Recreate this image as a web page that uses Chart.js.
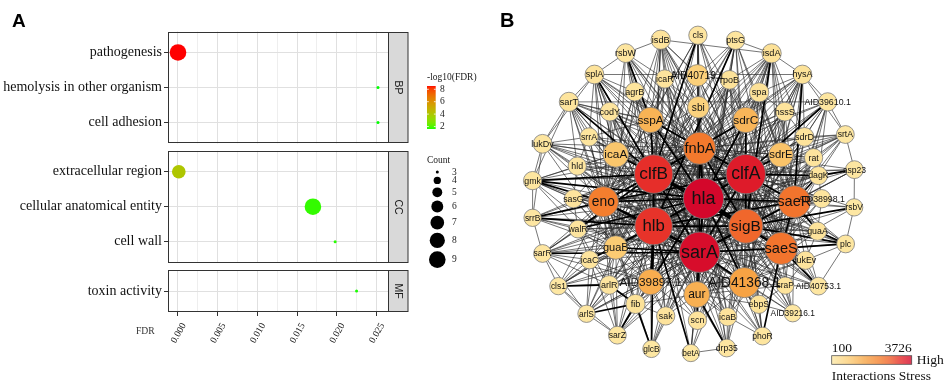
<!DOCTYPE html>
<html>
<head>
<meta charset="utf-8">
<script src="https://cdn.jsdelivr.net/npm/chart.js@4.4.1/dist/chart.umd.min.js"></script>
<style>
  html, body { margin: 0; padding: 0; background: #fff; }
  #wrap { position: relative; width: 948px; height: 388px; overflow: hidden; }
  canvas { position: absolute; top: 0; }
  #goChart { left: 0; }
  #netChart { left: 495px; }
</style>
</head>
<body>
<div id="wrap">
  <canvas id="goChart" width="495" height="388"></canvas>
  <canvas id="netChart" width="453" height="388"></canvas>
</div>
<script>
// ---------- panel A data: GO enrichment ----------
const goTerms = ["pathogenesis", "hemolysis in other organism", "cell adhesion",
    "extracellular region", "cellular anatomical entity", "cell wall", "toxin activity"];
const goCategory = ["BP", "BP", "BP", "CC", "CC", "CC", "MF"];
const goFDR = [2.95e-9, 0.0252, 0.0252, 1.0e-4, 0.0170, 0.0198, 0.0225];
const goCount = [9, 3, 3, 7, 9, 3, 3];
const fdrTicks = [0, 0.005, 0.010, 0.015, 0.020, 0.025];
const fdrTickLabels = ["0.000", "0.005", "0.010", "0.015", "0.020", "0.025"];
const fdrMinorTicks = [0.0025, 0.0075, 0.0125, 0.0175, 0.0225];
const colourBreaks = [2, 4, 6, 8];
const countBreaks = [3, 4, 5, 6, 7, 8, 9];

// ---------- panel B data: PPI network ----------
const nodeNames = ["isdB", "cls", "ptsG", "isdA", "rsbW", "splA", "icaR", "AID40719.1", "rpoB", "hysA",
    "agrB", "spa", "sarT", "codY", "sbi", "hssS", "AID39610.1", "sspA", "sdrC", "lukDv",
    "srrA", "sdrD", "srtA", "icaA", "fnbA", "sdrE", "rat", "hld", "clfB", "clfA",
    "dagK", "asp23", "gmk", "sasG", "eno", "hla", "saeR", "AID38998.1", "rsbV", "srrB",
    "walR", "hlb", "sigB", "guaA", "plc", "guaB", "sarA", "saeS", "sarR", "icaC",
    "lukEv", "cls1", "arlR", "AID39897.1", "AID41368.1", "sraP", "AID40753.1", "aur", "fib", "ebpS",
    "arlS", "sak", "scn", "icaB", "AID39216.1", "sarZ", "phoR", "glcB", "betA", "drp35"];
const nodeX = [-45.5, -4.5, 37, 76.7, -84.2, -118.5, -41, -5, 30.3, 110.7,
    -74.2, 63, -146.7, -101.7, -4, 91.3, 138.5, -56.7, 48.3, -175.7,
    -124.5, 113, 158, -95, -2.7, 87, 123, -137.5, -53.3, 48.3,
    128.3, 168, -186.7, -141.7, -108.7, 1.7, 101.7, 132, 167.7, -186.7,
    -136.7, -53.3, 48.3, 127.3, 158.3, -95, -2.7, 87.3, -175.7, -124,
    114, -158.3, -102.3, -56.7, 46.7, 91.7, 128.3, -5.7, -73.3, 62.7,
    -127.3, -40, -5, 28.3, 100, -93.3, 66.7, -55.7, -12.3, 27.3];
const nodeY = [-179, -184, -178.3, -163.7, -164, -140, -135, -139, -134, -140,
    -120.7, -120, -109.3, -98.3, -103.3, -98.3, -109.3, -89, -89, -62.3,
    -70, -70, -72.7, -50.3, -57.3, -50, -46.7, -37.3, -28.3, -28.3,
    -26.7, -33.3, -21, -0.7, 2.7, -1, 2.7, -0.7, 9, 20.7,
    33.3, 30, 30, 35.7, 50, 54, 59.3, 55, 60.7, 67.7,
    68.3, 97.3, 96, 92.7, 93.3, 96.7, 97.3, 106.7, 117.3, 117.7,
    128.3, 130.7, 135.7, 131.7, 127.7, 152.3, 153.3, 167.7, 172.3, 166.7];
const nodeStress = [260, 200, 220, 330, 210, 280, 260, 800, 300, 300,
    250, 320, 240, 230, 750, 260, 190, 1350, 1300, 210,
    220, 280, 180, 1000, 2380, 1050, 240, 200, 3200, 3450,
    250, 180, 190, 260, 2300, 3726, 2450, 220, 150, 170,
    230, 3150, 2620, 280, 190, 900, 3650, 2450, 200, 240,
    260, 150, 230, 1450, 1650, 280, 170, 1400, 300, 300,
    170, 260, 260, 270, 150, 190, 210, 160, 160, 200];
const nodeDegree = [16, 14, 14, 16, 15, 15, 14, 21, 15, 15,
    15, 16, 16, 15, 21, 15, 14, 29, 29, 15,
    14, 15, 13, 29, 43, 27, 14, 14, 56, 58,
    14, 13, 14, 14, 39, 60, 43, 14, 12, 12,
    13, 54, 47, 14, 13, 25, 60, 43, 13, 14,
    14, 12, 15, 29, 39, 12, 13, 30, 16, 14,
    12, 14, 14, 14, 12, 13, 13, 12, 12, 13];
const stressLegend = [100, 3726];

// thin interactions, written as "node: neighbours"
const thinLinks = [
    "hla: sarA clfA clfB hlb sigB saeS saeR fnbA eno AID41368.1 AID39897.1 aur sspA sdrC sdrE icaA guaB sbi AID40719.1",
    "sarA: clfA clfB hlb sigB saeS saeR fnbA eno AID41368.1 AID39897.1 aur sspA sdrC sdrE icaA guaB sbi",
    "clfA: clfB hlb sigB saeS saeR fnbA eno AID41368.1 AID39897.1 aur sspA sdrC sdrE icaA guaB",
    "clfB: hlb sigB saeS saeR fnbA eno AID41368.1 AID39897.1 aur sspA sdrC sdrE icaA guaB sbi",
    "hlb: sigB saeS saeR fnbA eno AID41368.1 AID39897.1 aur sspA sdrC icaA guaB",
    "sigB: saeS saeR fnbA eno AID41368.1 AID39897.1 aur sspA sdrC sdrE guaB",
    "saeS: saeR fnbA eno AID41368.1 AID39897.1 aur sdrC sdrE",
    "saeR: fnbA eno AID41368.1 aur sspA sdrC sdrE",
    "fnbA: eno AID41368.1 AID39897.1 aur sspA sdrC sdrE icaA sbi",
    "eno: AID41368.1 AID39897.1 aur sspA icaA guaB",
    "AID41368.1: AID39897.1 aur sdrE guaB",
    "sbi: sigB saeS saeR eno clfA clfB hlb aur icaA",
    "isdB: hla sarA clfA clfB hlb fnbA sbi sspA icaR AID40719.1 isdA rsbW sigB saeS eno guaB AID39897.1 aur sdrC",
    "cls: hla sarA clfB hlb sigB fnbA AID40719.1 sbi clfA saeS eno guaB aur sdrC sspA",
    "ptsG: hla sarA clfB eno sigB rpoB AID40719.1 isdA clfA hlb saeS saeR aur guaB sdrE",
    "isdA: hla sarA clfA sigB saeS saeR sdrC sdrE spa hssS hysA rpoB sdrD fnbA clfB hlb eno guaB AID39897.1 aur AID41368.1",
    "rsbW: hla sarA clfB hlb sigB agrB icaR splA clfA fnbA eno guaB aur saeS",
    "splA: hla sarA clfB hlb eno icaA sspA agrB codY sarT lukDv hysA srrA clfA fnbA sigB guaB AID39897.1 aur",
    "icaR: hla sarA clfB hlb fnbA sspA sbi clfA sigB eno guaB aur",
    "AID40719.1: clfA clfB hlb fnbA sigB saeS rpoB sbi eno aur",
    "rpoB: hla sarA clfA clfB hlb sigB saeS saeR sdrC fnbA eno guaB AID39897.1 aur AID41368.1",
    "hysA: hla sarA clfA sigB saeS saeR sdrC sdrE spa hssS sdrD AID39610.1 srtA clfB hlb fnbA AID41368.1 aur",
    "agrB: hla sarA clfB hlb eno sspA icaA clfA fnbA sigB guaB",
    "spa: hla sarA clfA clfB sigB saeS saeR sdrC sdrE fnbA hssS hlb eno AID41368.1 aur",
    "sarT: hla sarA hlb eno icaA srrA codY hld lukDv AID39610.1 gmk clfA fnbA sigB guaB AID39897.1 sspA",
    "codY: hla sarA clfB hlb eno sigB sspA icaA clfA fnbA guaB aur",
    "hssS: hla sarA clfA sigB saeS saeR sdrE sdrD clfB hlb fnbA AID41368.1",
    "AID39610.1: hla sarA clfA sigB saeS saeR sdrD srtA dagK rat clfB hlb fnbA",
    "srrA: hla sarA clfB hlb eno icaA lukDv hld clfA fnbA sigB guaB sspA",
    "lukDv: hla sarA clfB hlb eno icaA srrA hld gmk srrB sarT clfA fnbA sigB guaB",
    "sdrD: hla sarA clfA sigB saeS saeR sdrE srtA rat clfB hlb fnbA AID41368.1 aur",
    "srtA: hla sarA clfA sigB saeR sdrE rat dagK asp23 clfB hlb fnbA",
    "rat: hla sarA clfA sigB saeS saeR sdrE dagK clfB hlb fnbA AID41368.1",
    "hld: hla sarA clfB hlb eno icaA gmk sasG clfA fnbA sigB guaB",
    "dagK: hla sarA sigB saeS AID38998.1 clfB hlb fnbA eno AID41368.1",
    "asp23: hla sarA sigB saeR rsbV clfA clfB hlb fnbA",
    "gmk: sarA hlb sasG srrB walR clfA fnbA sigB guaB icaA",
    "sasG: hla sarA clfB hlb eno walR icaA clfA fnbA sigB guaB AID39897.1",
    "AID38998.1: hla sarA clfA sigB saeS saeR guaA clfB hlb fnbA AID41368.1",
    "rsbV: hla saeR saeS plc clfA sarA",
    "srrB: hla sarA hlb walR sarR guaB clfB clfA fnbA sigB",
    "walR: sarA clfB hlb eno guaB icaC hla clfA fnbA sigB AID39897.1 arlR",
    "guaA: hla sarA clfA sigB saeS saeR lukEv clfB hlb fnbA AID41368.1 sdrE",
    "plc: hla sarA saeR guaA lukEv AID40753.1 clfA clfB hlb fnbA",
    "sarR: hla sarA hlb eno guaB icaC arlR walR arlS cls1 clfA clfB fnbA sigB AID39897.1",
    "icaC: hla sarA eno guaB arlR arlS cls1 sarZ clfA clfB fnbA sigB AID39897.1",
    "lukEv: hla sarA clfA sigB saeS saeR sraP AID40753.1 clfB hlb fnbA AID41368.1 aur",
    "cls1: hla sarA hlb eno arlS sarZ clfA clfB sigB guaB AID39897.1",
    "arlR: hla sarA hlb eno guaB AID39897.1 fib arlS sarZ clfA clfB fnbA sigB",
    "sraP: hla sarA clfA sigB saeS saeR AID41368.1 AID39216.1 ebpS clfB hlb fnbA aur",
    "AID40753.1: hla sarA sigB saeR sraP clfA clfB hlb fnbA",
    "fib: hla sarA clfA clfB hlb AID39897.1 sak eno sigB guaB aur fnbA",
    "ebpS: hla sarA clfA clfB sigB saeS AID41368.1 phoR AID39216.1 hlb fnbA aur eno",
    "arlS: hla sarA hlb eno sarZ clfA clfB sigB guaB AID39897.1",
    "sak: hla sarA hlb AID39897.1 aur glcB clfA clfB sigB fnbA eno",
    "scn: hla sarA hlb sigB AID41368.1 clfA clfB fnbA eno AID39897.1",
    "icaB: hla sarA clfA sigB saeS aur AID41368.1 phoR clfB hlb fnbA eno",
    "AID39216.1: hla sarA sigB saeS saeR clfA clfB hlb fnbA",
    "sarZ: hla sarA hlb eno AID39897.1 clfA clfB sigB guaB",
    "phoR: hla sarA sigB AID41368.1 icaB clfA clfB hlb fnbA",
    "glcB: hla sarA sak clfB fnbA eno AID39897.1",
    "betA: hla sarA aur drp35 clfA clfB sigB",
    "drp35: hla sarA sigB AID41368.1 icaB clfA clfB hlb fnbA"
];

// heavier interactions
const thickLinks = [
    "hla: sarA clfA clfB hlb sigB fnbA saeR eno gmk walR AID41368.1 AID39897.1 aur sspA sdrC",
    "sarA: clfA clfB hlb sigB saeS guaB aur AID41368.1 eno saeR fnbA sarR",
    "clfA: fnbA sigB saeR sdrE sdrC sspA dagK AID39610.1 hlb eno",
    "clfB: fnbA hlb eno sspA icaA sdrC sarT gmk cls sigB saeS splA walR",
    "hlb: eno AID39897.1 glcB betA icaC srrB ptsG sigB saeR",
    "fnbA: sigB eno",
    "sigB: saeS rsbV plc isdA",
    "saeR: saeS dagK guaA hysA",
    "saeS: phoR AID40753.1 plc",
    "eno: srrB gmk",
    "sspA: rsbW",
    "aur: drp35 scn",
    "arlR: cls1 fib",
    "fib: glcB sarZ arlS",
    "asp23: dagK",
    "plc: guaA"
];

// ---------- helpers ----------
function hexToRgb(h) {
    const n = parseInt(h.slice(1), 16);
    return [(n >> 16) & 255, (n >> 8) & 255, n & 255];
}
function toLin(c) { c /= 255; return c <= 0.04045 ? c / 12.92 : Math.pow((c + 0.055) / 1.055, 2.4); }
function fromLin(c) {
    const v = c <= 0.0031308 ? 12.92 * c : 1.055 * Math.pow(c, 1 / 2.4) - 0.055;
    return Math.max(0, Math.min(255, Math.round(v * 255)));
}
function rgbToLab(rgb) {
    const [r, g, b] = rgb.map(toLin);
    const x = (0.4124 * r + 0.3576 * g + 0.1805 * b) / 0.95047;
    const y = 0.2126 * r + 0.7152 * g + 0.0722 * b;
    const z = (0.0193 * r + 0.1192 * g + 0.9505 * b) / 1.08883;
    const f = t => t > 0.008856 ? Math.cbrt(t) : 7.787 * t + 16 / 116;
    return [116 * f(y) - 16, 500 * (f(x) - f(y)), 200 * (f(y) - f(z))];
}
function labToRgb([L, a, bb]) {
    const fy = (L + 16) / 116, fx = fy + a / 500, fz = fy - bb / 200;
    const inv = t => t * t * t > 0.008856 ? t * t * t : (t - 16 / 116) / 7.787;
    const x = inv(fx) * 0.95047, y = inv(fy), z = inv(fz) * 1.08883;
    const r = 3.2406 * x - 1.5372 * y - 0.4986 * z;
    const g = -0.9689 * x + 1.8758 * y + 0.0415 * z;
    const b = 0.0557 * x - 0.2040 * y + 1.0570 * z;
    return [fromLin(r), fromLin(g), fromLin(b)];
}

// ggplot-like green -> red gradient in Lab space
const labLow = rgbToLab([0, 255, 0]);
const labHigh = rgbToLab([255, 0, 0]);
const negLogFDR = goFDR.map(f => -Math.log10(f));
const nlMin = Math.min(...negLogFDR);
const nlMax = Math.max(...negLogFDR);
function fdrColour(v) {
    const t = Math.max(0, Math.min(1, (v - nlMin) / (nlMax - nlMin)));
    const c = labToRgb(labLow.map((l, i) => l + (labHigh[i] - l) * t));
    return `rgb(${c[0]},${c[1]},${c[2]})`;
}
function countRadius(c) {
    return Math.sqrt(2.25 + 11.1 * (c - 3));
}

// Cytoscape-like stress gradient
const stressStops = [[0, "#fde9a6"], [0.2, "#fbcf78"], [0.4, "#f7a848"], [0.6, "#f4802e"],
    [0.72, "#ef612b"], [0.86, "#e62c2a"], [1, "#d4072b"]];
function stressColour(s) {
    const t = Math.max(0, Math.min(1, (s - stressLegend[0]) / (stressLegend[1] - stressLegend[0])));
    for (let k = 1; k < stressStops.length; k++) {
        if (t <= stressStops[k][0]) {
            const [t0, c0] = stressStops[k - 1];
            const [t1, c1] = stressStops[k];
            const u = (t - t0) / (t1 - t0);
            const a = hexToRgb(c0), b = hexToRgb(c1);
            return `rgb(${a.map((v, i) => Math.round(v + (b[i] - v) * u)).join(",")})`;
        }
    }
    return stressStops[stressStops.length - 1][1];
}
const nodeRadius = d => 8.2 + (d - 10) * 0.24;
const nodeFont = d => 8 + (d - 10) * 0.2;

// ---------- facet layout for panel A ----------
const facets = [...new Set(goCategory)];
const EXPAND = 0.6, GAP = 0.21;
const rowPos = [];
const facetRange = [];
let cursor = -EXPAND;
facets.forEach(f => {
    const idx = goCategory.map((c, i) => c === f ? i : -1).filter(i => i >= 0);
    const start = cursor + EXPAND;
    idx.forEach((i, k) => { rowPos[i] = start + k; });
    const end = start + idx.length - 1 + EXPAND;
    facetRange.push({ name: f, from: cursor, to: end });
    cursor = end + GAP;
});
const yMin = -EXPAND;
const yMax = facetRange[facetRange.length - 1].to;
const fdrSpan = Math.max(...goFDR) - Math.min(...goFDR);
const xMin = Math.min(...goFDR) - 0.05 * fdrSpan;
const xMax = Math.max(...goFDR) + 0.05 * fdrSpan;

const SERIF = '"Liberation Serif", "Times New Roman", serif';
const SANS = '"Liberation Sans", Arial, sans-serif';

const goDecor = {
    id: "goDecor",
    beforeDatasetsDraw(chart) {
        const { ctx, chartArea: a, scales: { y } } = chart;
        ctx.save();
        // blank the gaps between facets
        ctx.fillStyle = "#fff";
        for (let k = 0; k < facetRange.length - 1; k++) {
            const top = y.getPixelForValue(facetRange[k].to);
            const bot = y.getPixelForValue(facetRange[k + 1].from);
            ctx.fillRect(a.left - 0.5, top, a.right - a.left + 1, bot - top);
        }
        facetRange.forEach(fr => {
            const top = Math.round(y.getPixelForValue(fr.from)) + 0.5;
            const bot = Math.round(y.getPixelForValue(fr.to)) - 0.5;
            const l = Math.round(a.left) + 0.5, r = Math.round(a.right) + 0.5;
            // strip
            ctx.fillStyle = "#d9d9d9";
            ctx.fillRect(r, top, 19.5, bot - top);
            ctx.strokeStyle = "#333";
            ctx.lineWidth = 1;
            ctx.strokeRect(r, top, 19.5, bot - top);
            ctx.strokeRect(l, top, r - l, bot - top);
            ctx.save();
            ctx.translate(r + 9.8, (top + bot) / 2);
            ctx.rotate(Math.PI / 2);
            ctx.fillStyle = "#1a1a1a";
            ctx.font = "10.5px " + SANS;
            ctx.textAlign = "center";
            ctx.textBaseline = "middle";
            ctx.fillText(fr.name, 0, 0);
            ctx.restore();
        });
        ctx.restore();
    },
    afterDraw(chart) {
        const { ctx } = chart;
        ctx.save();
        ctx.fillStyle = "#000";
        ctx.font = "bold 19px " + SANS;
        ctx.textBaseline = "alphabetic";
        ctx.fillText("A", 12, 27);

        ctx.fillStyle = "#333";
        ctx.font = "9.6px " + SERIF;
        ctx.textBaseline = "middle";
        ctx.fillText("FDR", 136, 331);

        // colour bar legend
        ctx.fillStyle = "#1a1a1a";
        ctx.font = "9.5px " + SERIF;
        ctx.fillText("-log10(FDR)", 427, 77);
        const barTop = 86, barBot = 129, barL = 427, barW = 8.7;
        for (let py = barTop; py < barBot; py++) {
            const v = nlMax - (py + 0.5 - barTop) / (barBot - barTop) * (nlMax - nlMin);
            ctx.fillStyle = fdrColour(v);
            ctx.fillRect(barL, py, barW, 1);
        }
        colourBreaks.forEach(b => {
            const py = barBot - (b - nlMin) / (nlMax - nlMin) * (barBot - barTop);
            ctx.strokeStyle = "#fff";
            ctx.lineWidth = 0.8;
            ctx.beginPath();
            ctx.moveTo(barL, py); ctx.lineTo(barL + 1.8, py);
            ctx.moveTo(barL + barW - 1.8, py); ctx.lineTo(barL + barW, py);
            ctx.stroke();
            ctx.fillStyle = "#1a1a1a";
            ctx.fillText(String(b), 440, py);
        });

        // count legend
        ctx.fillText("Count", 427, 160);
        let cy = 172;
        countBreaks.forEach((c, k) => {
            const r = countRadius(c);
            if (k > 0) cy += (countRadius(countBreaks[k - 1]) + r) + 3.3;
            ctx.fillStyle = "#000";
            ctx.beginPath();
            ctx.arc(437.3, cy, r, 0, Math.PI * 2);
            ctx.fill();
            ctx.fillStyle = "#1a1a1a";
            ctx.fillText(String(c), 452, cy);
        });
        ctx.restore();
    }
};

const isMajor = v => fdrTicks.some(t => Math.abs(t - v) < 1e-9);

new Chart(document.getElementById("goChart").getContext("2d"), {
    type: "scatter",
    data: {
        datasets: [{
            data: goFDR.map((f, i) => ({ x: f, y: rowPos[i] })),
            pointRadius: ctx => countRadius(goCount[ctx.dataIndex]),
            pointBackgroundColor: ctx => fdrColour(negLogFDR[ctx.dataIndex]),
            pointBorderWidth: 0,
            clip: false
        }]
    },
    options: {
        responsive: false,
        animation: false,
        layout: { padding: { top: 31.5, right: 107, bottom: 0, left: 0 } },
        plugins: { legend: { display: false }, tooltip: { enabled: false } },
        scales: {
            x: {
                type: "linear",
                min: xMin,
                max: xMax,
                afterBuildTicks: scale => {
                    scale.ticks = [...fdrTicks, ...fdrMinorTicks].sort((p, q) => p - q).map(v => ({ value: v }));
                },
                afterFit: scale => {
                    scale.height = 76;
                    scale.paddingLeft = 0;
                    scale.paddingRight = 0;
                },
                border: { display: false },
                grid: {
                    color: ctx => isMajor(ctx.tick.value) ? "#e0e0e0" : "#eeeeee",
                    lineWidth: 1,
                    tickLength: 4,
                    tickColor: ctx => isMajor(ctx.tick.value) ? "#333" : "rgba(0,0,0,0)"
                },
                ticks: {
                    autoSkip: false,
                    minRotation: 60,
                    maxRotation: 60,
                    padding: 5,
                    labelOffset: 6,
                    color: "#222",
                    font: { family: SERIF, size: 9.6 },
                    callback: v => {
                        const i = fdrTicks.findIndex(t => Math.abs(t - v) < 1e-9);
                        return i >= 0 ? fdrTickLabels[i] : "";
                    }
                }
            },
            y: {
                type: "linear",
                reverse: true,
                min: yMin,
                max: yMax,
                afterBuildTicks: scale => {
                    scale.ticks = rowPos.map(v => ({ value: v }));
                },
                afterFit: scale => {
                    scale.width = 168;
                    scale.paddingTop = 0;
                    scale.paddingBottom = 0;
                },
                border: { display: false },
                grid: { color: "#e0e0e0", lineWidth: 1, tickLength: 4, tickColor: "#333" },
                ticks: {
                    autoSkip: false,
                    padding: 2,
                    color: "#111",
                    font: { family: SERIF, size: 14 },
                    callback: (v, i) => goTerms[i]
                }
            }
        }
    },
    plugins: [goDecor]
});

// ---------- panel B ----------
function parseLinks(list) {
    const seen = new Set();
    const out = [];
    list.forEach(line => {
        const [head, rest] = line.split(":");
        const a = nodeNames.indexOf(head.trim());
        rest.trim().split(/\s+/).forEach(nb => {
            const b = nodeNames.indexOf(nb);
            if (a < 0 || b < 0 || a === b) return;
            const key = Math.min(a, b) + "-" + Math.max(a, b);
            if (seen.has(key)) return;
            seen.add(key);
            out.push([a, b]);
        });
    });
    return out;
}
const thinEdges = parseLinks(thinLinks);
const thickEdges = parseLinks(thickLinks);

const netDecor = {
    id: "netDecor",
    beforeDatasetsDraw(chart) {
        const { ctx, scales: { x, y } } = chart;
        const px = i => x.getPixelForValue(nodeX[i]);
        const py = i => y.getPixelForValue(nodeY[i]);
        ctx.save();
        ctx.strokeStyle = "rgba(40,40,40,0.85)";
        ctx.lineWidth = 0.75;
        ctx.beginPath();
        thinEdges.forEach(([a, b]) => { ctx.moveTo(px(a), py(a)); ctx.lineTo(px(b), py(b)); });
        ctx.stroke();
        ctx.strokeStyle = "#000";
        ctx.lineWidth = 1.7;
        ctx.beginPath();
        thickEdges.forEach(([a, b]) => { ctx.moveTo(px(a), py(a)); ctx.lineTo(px(b), py(b)); });
        ctx.stroke();
        ctx.restore();
    },
    afterDatasetsDraw(chart) {
        const { ctx, scales: { x, y } } = chart;
        ctx.save();
        ctx.textAlign = "center";
        ctx.textBaseline = "middle";
        ctx.fillStyle = "#111";
        nodeNames.forEach((n, i) => {
            ctx.font = nodeFont(nodeDegree[i]).toFixed(1) + "px " + SANS;
            ctx.fillText(n, x.getPixelForValue(nodeX[i]), y.getPixelForValue(nodeY[i]) + 0.5);
        });
        ctx.restore();
    },
    afterDraw(chart) {
        const { ctx } = chart;
        ctx.save();
        ctx.fillStyle = "#000";
        ctx.font = "bold 20px " + SANS;
        ctx.fillText("B", 5, 27);

        // stress legend
        const L = 336.7, T = 355.7, W = 80, H = 8.6;
        for (let k = 0; k < W; k++) {
            ctx.fillStyle = stressColour(stressLegend[0] + (k + 0.5) / W * (stressLegend[1] - stressLegend[0]));
            ctx.fillRect(L + k, T, 1, H);
        }
        ctx.strokeStyle = "#555";
        ctx.lineWidth = 0.8;
        ctx.strokeRect(L, T, W, H);
        ctx.fillStyle = "#111";
        ctx.font = "13.5px " + SERIF;
        ctx.textBaseline = "alphabetic";
        ctx.textAlign = "left";
        ctx.fillText(String(stressLegend[0]), L, 351.5);
        ctx.textAlign = "right";
        ctx.fillText(String(stressLegend[1]), L + W, 351.5);
        ctx.textAlign = "left";
        ctx.textBaseline = "middle";
        ctx.fillText("High", L + W + 5, 360);
        ctx.fillText("Interactions Stress", L, 376);
        ctx.restore();
    }
};

new Chart(document.getElementById("netChart").getContext("2d"), {
    type: "scatter",
    data: {
        datasets: [{
            data: nodeNames.map((n, i) => ({ x: nodeX[i], y: nodeY[i] })),
            pointRadius: ctx => nodeRadius(nodeDegree[ctx.dataIndex]),
            pointBackgroundColor: ctx => stressColour(nodeStress[ctx.dataIndex]),
            pointBorderColor: "#7d7d7d",
            pointBorderWidth: 0.8,
            clip: false
        }]
    },
    options: {
        responsive: false,
        animation: false,
        layout: { padding: 0 },
        plugins: { legend: { display: false }, tooltip: { enabled: false } },
        scales: {
            x: { type: "linear", display: false, min: -205, max: 248 },
            y: { type: "linear", display: false, reverse: true, min: -200, max: 188 }
        }
    },
    plugins: [netDecor]
});
</script>
</body>
</html>
